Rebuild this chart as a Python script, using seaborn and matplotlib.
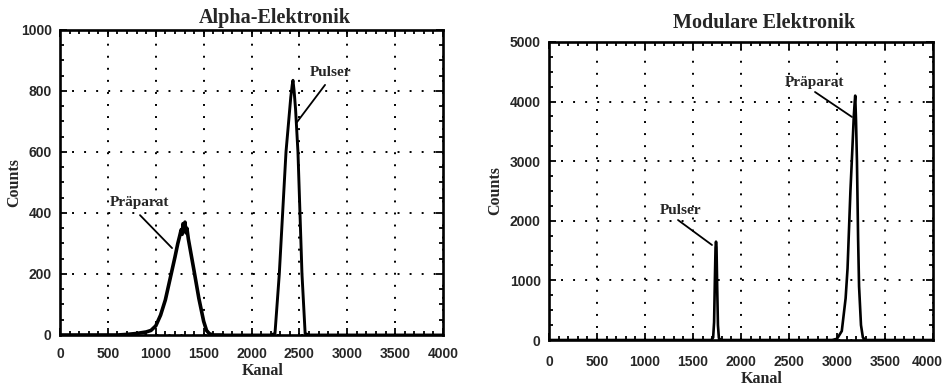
import numpy as np
import pandas as pd
import matplotlib
matplotlib.use("Agg")
import matplotlib.pyplot as plt
from matplotlib.ticker import MultipleLocator
from matplotlib.transforms import ScaledTranslation
import seaborn as sns

# ---- Alpha-Elektronik spectrum (channel, counts) ----
alpha_praep_kanal = [0, 300, 600, 700, 800, 900, 950, 1000, 1050, 1100, 1150, 1200,
                     1230, 1250, 1265, 1275, 1285, 1295, 1305, 1315, 1325, 1340,
                     1360, 1400, 1450, 1500, 1530, 1560, 1600, 1700]
alpha_praep_counts = [0, 0, 0, 2, 5, 10, 15, 30, 65, 115, 185, 255,
                      300, 325, 345, 330, 365, 340, 370, 335, 350, 315,
                      280, 210, 120, 45, 15, 4, 0, 0]

alpha_puls_kanal = [1700, 2200, 2245, 2290, 2360, 2410, 2425, 2433, 2445, 2460,
                    2485, 2527, 2560, 2600, 4000]
alpha_puls_counts = [0, 0, 5, 200, 600, 780, 820, 835, 800, 740,
                     600, 200, 5, 0, 0]

# ---- Modulare Elektronik spectrum (channel, counts) ----
mod_puls_kanal = [0, 1690, 1710, 1720, 1728, 1735, 1740, 1745, 1752, 1760, 1770, 1790]
mod_puls_counts = [0, 0, 40, 300, 1000, 1550, 1650, 1560, 900, 250, 30, 0]

mod_praep_kanal = [1790, 2950, 3000, 3050, 3090, 3110, 3140, 3160, 3175, 3185, 3190,
                   3198, 3208, 3220, 3230, 3250, 3270, 3300, 4000]
mod_praep_counts = [0, 0, 20, 150, 700, 1200, 2500, 3200, 3750, 4000, 4100,
                    3700, 3000, 1700, 900, 250, 40, 0, 0]

x_ticks = [0, 500, 1000, 1500, 2000, 2500, 3000, 3500, 4000]
alpha_y_ticks = [0, 200, 400, 600, 800, 1000]
mod_y_ticks = [0, 1000, 2000, 3000, 4000, 5000]

sns.set_style("ticks")
plt.rcParams["font.family"] = ["Liberation Serif", "DejaVu Serif"]

fig = plt.figure(figsize=(9.47, 3.88), dpi=100)
ax1 = fig.add_axes([0.0634, 0.1366, 0.4044, 0.7861])
ax2 = fig.add_axes([0.5797, 0.1237, 0.4055, 0.7681])

tick_font = {"family": "Liberation Sans", "weight": "bold", "size": 10}
label_font = {"family": "Liberation Serif", "weight": "bold", "size": 11.5}
title_font = {"family": "Liberation Serif", "weight": "bold", "size": 14.5}
note_font = {"family": "Liberation Serif", "weight": "bold", "size": 11}


def draw_spectrum(ax, parts, ymax, yticks, ymin_step, title, title_pad,
                  xlabel_y, ylabel_x, xlabel_x, xpad):
    for kanal, counts, lw in parts:
        df = pd.DataFrame({"Kanal": kanal, "Counts": counts})
        sns.lineplot(data=df, x="Kanal", y="Counts", ax=ax, color="black",
                     linewidth=lw, sort=False, estimator=None)
    ax.set_xlim(0, 4000)
    ax.set_ylim(0, ymax)
    ax.set_xticks(x_ticks)
    ax.set_yticks(yticks)
    ax.xaxis.set_minor_locator(MultipleLocator(100))
    ax.yaxis.set_minor_locator(MultipleLocator(ymin_step))
    ax.tick_params(which="both", direction="in", top=True, right=True,
                   color="black", width=1.3)
    ax.tick_params(which="major", length=5)
    ax.tick_params(which="minor", length=3)
    ax.tick_params(axis="x", which="major", pad=xpad)
    ax.tick_params(axis="y", which="major", pad=6)
    ax.set_xticklabels([str(t) for t in x_ticks], fontdict=tick_font)
    ax.set_yticklabels([str(t) for t in yticks], fontdict=tick_font)
    for s in ax.spines.values():
        s.set_linewidth(1.9)
        s.set_color("black")
    ax.grid(True, which="major", color="black", linewidth=1.4,
            linestyle=(0, (1, 5.2)))
    ax.set_axisbelow(True)
    ax.set_title(title, fontdict=title_font, x=0.56, pad=title_pad)
    ax.set_xlabel("Kanal", fontdict=label_font)
    ax.set_ylabel("Counts", fontdict=label_font)
    ax.xaxis.set_label_coords(xlabel_x, xlabel_y)
    ax.yaxis.set_label_coords(ylabel_x, 0.5)


draw_spectrum(ax1,
              [(alpha_praep_kanal, alpha_praep_counts, 2.6),
               (alpha_puls_kanal, alpha_puls_counts, 2.1)],
              1000, alpha_y_ticks, 50, "Alpha-Elektronik", 5,
              -0.092, -0.099, 0.53, 9)
draw_spectrum(ax2,
              [(mod_puls_kanal, mod_puls_counts, 1.9),
               (mod_praep_kanal, mod_praep_counts, 1.9)],
              5000, mod_y_ticks, 250, "Modulare Elektronik", 10,
              -0.104, -0.12, 0.555, 11)

# keep the last channel label of the right panel inside the page
last_label = ax2.get_xticklabels()[-1]
last_label.set_transform(last_label.get_transform()
                         + ScaledTranslation(-4 / 72, 0, fig.dpi_scale_trans))

line_kw = dict(arrowstyle="-", color="black", lw=1.3, shrinkA=0, shrinkB=0)


def label_with_leader(ax, text, text_xy, start, end):
    ax.text(text_xy[0], text_xy[1], text, fontdict=note_font,
            va="center", ha="left")
    ax.annotate("", xy=end, xytext=start, arrowprops=line_kw)


label_with_leader(ax1, "Präparat", (520, 433), (835, 393), (1170, 285))
label_with_leader(ax1, "Pulser", (2611, 859), (2768, 820), (2475, 698))
label_with_leader(ax2, "Präparat", (2458, 4312), (2771, 4161), (3156, 3742))
label_with_leader(ax2, "Pulser", (1156, 2181), (1344, 2013), (1698, 1594))

fig.savefig("out.png", dpi=100, facecolor="white")
